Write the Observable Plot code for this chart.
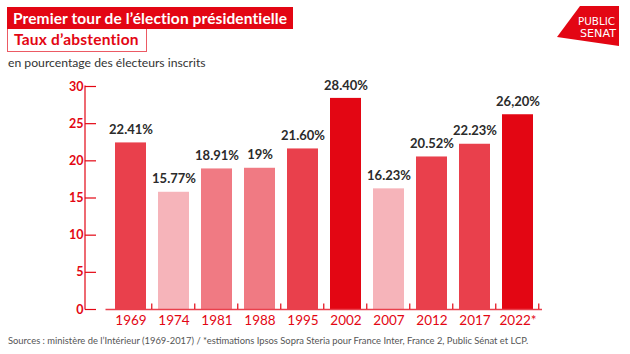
<!DOCTYPE html>
<html><head><meta charset="utf-8">
<script src="https://cdn.jsdelivr.net/npm/d3@7"></script>
<script src="https://cdn.jsdelivr.net/npm/@observablehq/plot@0.6"></script>
<style>
body{margin:0;background:#fff;font-family:Lato,"Open Sans",sans-serif;}
#wrap{position:relative;width:630px;height:354px;overflow:hidden;background:#fff;}
.t1{position:absolute;left:7px;top:7px;height:22px;width:286px;background:#e30613;color:#fff;font-weight:700;font-size:15.5px;letter-spacing:0.1px;line-height:22px;padding-left:6px;box-sizing:border-box;white-space:nowrap;}
.t2{position:absolute;left:7px;top:29px;height:23px;width:140px;border:1px solid #ec5a64;border-top:none;color:#e30613;font-weight:700;font-size:15.5px;letter-spacing:0.2px;line-height:21px;padding-left:6px;box-sizing:border-box;white-space:nowrap;background:#fff;}
.sub{position:absolute;left:8px;top:55px;font-size:12.2px;color:#333;white-space:nowrap;}
#chart{position:absolute;left:0;top:72px;}
.src{position:absolute;left:8px;top:335px;font-size:9.4px;color:#555;white-space:nowrap;}
.logo{position:absolute;left:0;top:0;}
</style></head>
<body><div id="wrap">
<div class="t1">Premier tour de l’élection présidentielle</div>
<div class="t2">Taux d’abstention</div>
<div class="sub">en pourcentage des électeurs inscrits</div>
<div id="chart"></div>
<div class="src">Sources : ministère de l’Intérieur (1969-2017) / *estimations Ipsos Sopra Steria pour France Inter, France 2, Public Sénat et LCP.</div>
<svg class="logo" width="630" height="60">
  <polygon points="557,37 580,6 619,6 619,46" fill="#e30613"/>
  <text x="596.5" y="25" fill="#fff" font-family="DejaVu Sans" font-weight="400" font-size="10.5" text-anchor="middle" textLength="37" lengthAdjust="spacingAndGlyphs">PUBLIC</text>
  <text x="598" y="36.5" fill="#fff" font-family="DejaVu Sans" font-weight="400" font-size="10.5" text-anchor="middle" textLength="36" lengthAdjust="spacingAndGlyphs">SENAT</text>
</svg>
</div>
<script>
// ---- data ----
const years = ["1969","1974","1981","1988","1995","2002","2007","2012","2017","2022"];
const yearLabels = ["1969","1974","1981","1988","1995","2002","2007","2012","2017","2022*"];
const values = [22.41, 15.77, 18.91, 19, 21.60, 28.40, 16.23, 20.52, 22.23, 26.20];
const valueLabels = ["22.41%","15.77%","18.91%","19%","21.60%","28.40%","16.23%","20.52%","22.23%","26,20%"];
const yTicks = [0, 5, 10, 15, 20, 25, 30];

// ---- styles ----
const RED = "#e30613";
const TONES = ["#f6b4ba", "#f07a83", "#e9404c", "#e30613"];
const W = 630, H = 258, ML = 105.5, MR = 88, MT = 14, MB = 21;
const PAD_INNER = 0.29, PAD_OUTER = 0.145, AXIS_GAP = 20.5;

const data = years.map((y, i) => ({year: y, value: values[i], label: valueLabels[i]}));
const labelOf = new Map(years.map((y, i) => [y, yearLabels[i]]));

function axisDecor(index, scales, vals, dims) {
  const ns = "http://www.w3.org/2000/svg";
  const g = document.createElementNS(ns, "g");
  g.setAttribute("stroke", RED);
  g.setAttribute("stroke-width", "1.2");
  const add = (x1, y1, x2, y2) => {
    const l = document.createElementNS(ns, "line");
    l.setAttribute("x1", x1); l.setAttribute("y1", y1);
    l.setAttribute("x2", x2); l.setAttribute("y2", y2);
    g.appendChild(l);
  };
  const y0 = scales.y(0), yTop = scales.y(yTicks[yTicks.length - 1]);
  const ax = dims.marginLeft - AXIS_GAP;
  add(ax, y0 + 0.6, ax, yTop - 0.6);
  const step = scales.x(years[1]) - scales.x(years[0]);
  const bw = step * (1 - PAD_INNER);
  for (const yr of years) {
    const bx = scales.x(yr) + (step + bw) / 2;
    add(bx, y0, bx, y0 - 5.5);
  }
  return g;
}

const chart = Plot.plot({
  width: W, height: H,
  marginLeft: ML, marginRight: MR, marginTop: MT, marginBottom: MB,
  style: {fontFamily: "Lato, 'Open Sans', sans-serif", background: "transparent", overflow: "visible"},
  x: {domain: years, paddingInner: PAD_INNER, paddingOuter: PAD_OUTER, axis: null},
  y: {domain: [0, 30], axis: null},
  color: {type: "threshold", domain: [17, 20, 25], range: TONES},
  marks: [
    Plot.barY(data, {x: "year", y: "value", fill: "value"}),
    Plot.ruleY([0], {stroke: "#e9404c", strokeWidth: 1.3}),
    Plot.text(data, {x: "year", y: "value", text: "label", dy: -13, fontWeight: 700, fontSize: 13, fill: "#2b2b2b"}),
    Plot.axisX({label: null, tickSize: 0, tickPadding: 6, tickFormat: d => labelOf.get(d), fontSize: 13.5, color: RED}),
    Plot.axisY({label: null, ticks: yTicks, tickSize: 11, tickPadding: 2, dx: -9.5, fontWeight: 700, fontSize: 12.5, color: RED, strokeWidth: 1.2}),
    axisDecor
  ]
});
document.getElementById("chart").appendChild(chart);
</script>
</body></html>
